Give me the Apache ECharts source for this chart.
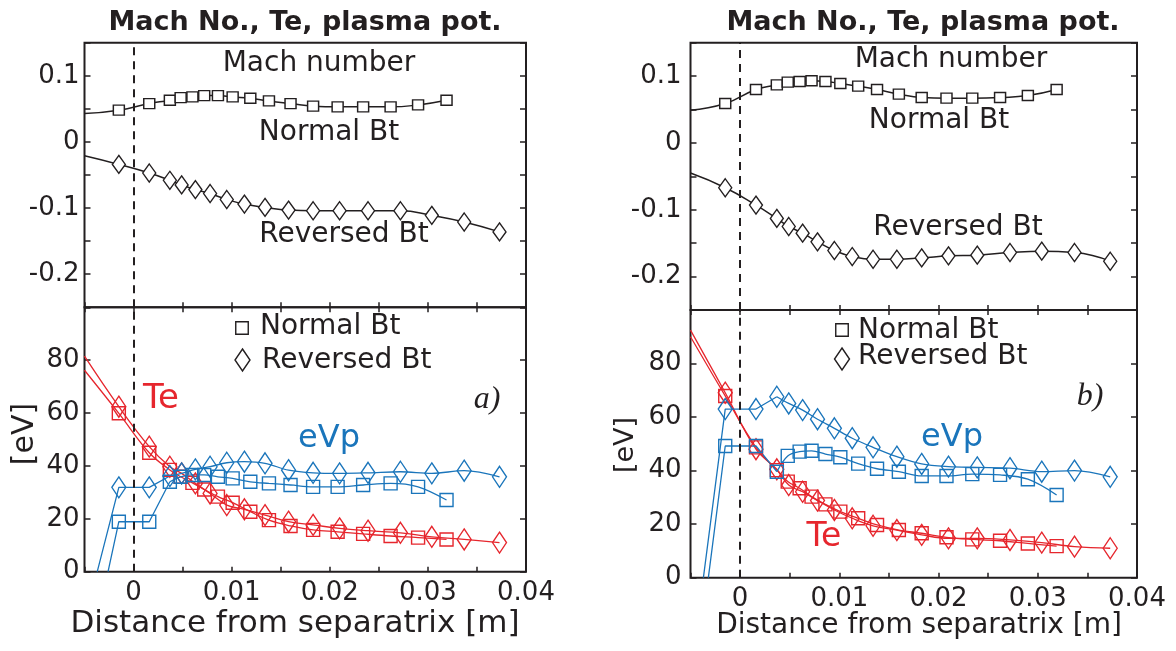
<!DOCTYPE html>
<html>
<head>
<meta charset="utf-8">
<script src="https://cdn.jsdelivr.net/npm/echarts@6/dist/echarts.min.js"></script>
<style>
  html, body { margin: 0; padding: 0; background: #fff; }
  #chart { width: 1176px; height: 651px; }
</style>
</head>
<body>
<div id="chart"></div>
<script>
// probe positions, distance from separatrix [m]
const xNormal = [-0.0015, 0.0016, 0.0037, 0.0048, 0.0060, 0.0072, 0.0086, 0.0101, 0.0119, 0.0138, 0.0160, 0.0183, 0.0208, 0.0234, 0.0262, 0.0290, 0.0319];
const xReversed = [-0.0015, 0.0016, 0.0037, 0.0049, 0.0063, 0.0078, 0.0095, 0.0113, 0.0134, 0.0158, 0.0183, 0.0210, 0.0239, 0.0272, 0.0304, 0.0337, 0.0373];

// a) Mach number
const machNormalA = [0.048, 0.058, 0.063, 0.067, 0.068, 0.070, 0.070, 0.068, 0.066, 0.062, 0.058, 0.054, 0.053, 0.053, 0.053, 0.056, 0.063];
const machReversedA = [-0.034, -0.047, -0.058, -0.065, -0.072, -0.078, -0.087, -0.094, -0.099, -0.103, -0.104, -0.104, -0.104, -0.104, -0.111, -0.121, -0.136];
const machEdgeA = [0.043, -0.021];        // fit curves at x = -0.005 (normal, reversed)
// a) Te, eVp [eV]
const teNormalA = [59.9, 45.0, 38.5, 35.9, 33.6, 31.1, 28.4, 26.1, 22.7, 19.5, 17.3, 15.8, 15.1, 14.3, 13.5, 12.9, 12.2];
const teReversedA = [62.4, 47.3, 39.7, 37.2, 33.4, 29.6, 25.2, 23.6, 21.4, 18.9, 17.7, 16.4, 15.5, 14.7, 13.2, 12.2, 11.0];
const evpNormalA = [18.9, 18.9, 34.0, 35.9, 36.6, 36.6, 35.9, 35.3, 34.0, 33.4, 32.8, 32.1, 32.1, 32.8, 33.4, 32.1, 27.1];
const evpReversedA = [31.9, 31.9, 36.2, 37.2, 38.7, 39.7, 41.2, 41.6, 41.0, 38.4, 37.4, 37.2, 37.4, 37.8, 37.2, 38.2, 35.9];
const teEdgeA = [76.2, 81.5];             // Te curves at x = -0.005 (normal, reversed)
const evpFootA = [-0.0026, -0.0037];      // where eVp curves leave 0 eV (normal, reversed)

// b) Mach number
const machNormalB = [0.059, 0.080, 0.087, 0.091, 0.092, 0.093, 0.092, 0.089, 0.085, 0.080, 0.073, 0.068, 0.067, 0.067, 0.068, 0.071, 0.080];
const machReversedB = [-0.067, -0.093, -0.113, -0.125, -0.135, -0.148, -0.161, -0.170, -0.174, -0.174, -0.172, -0.169, -0.168, -0.164, -0.162, -0.164, -0.177];
const machEdgeB = [0.049, -0.045];
// b) Te, eVp [eV]
const teNormalB = [67.9, 48.7, 40.2, 35.9, 33.4, 30.3, 27.4, 24.7, 22.2, 19.7, 17.8, 16.6, 15.1, 14.3, 13.8, 12.8, 11.8];
const teReversedB = [69.1, 48.0, 40.5, 34.6, 32.1, 28.8, 25.3, 22.2, 19.4, 17.8, 16.0, 14.7, 14.7, 14.1, 13.1, 11.6, 11.0];
const evpNormalB = [49.2, 49.2, 39.6, 45.5, 47.1, 47.4, 46.2, 45.0, 42.6, 40.7, 39.6, 38.0, 38.0, 38.7, 38.4, 36.8, 30.9];
const evpReversedB = [63.0, 63.0, 67.6, 65.1, 62.6, 59.2, 55.8, 52.1, 48.7, 45.2, 42.5, 41.5, 41.2, 40.9, 39.6, 40.0, 37.7];
const teEdgeB = [90.0, 92.5];
const evpFootB = [-0.0032, -0.0037];

// axis scales
const xScale = { min: -0.005, max: 0.04, interval: 0.005 };
const machScale = { min: -0.25, max: 0.15, interval: 0.05 };
const evScale = { min: 0, max: 100, interval: 20 };

const INK = '#231f20';
const RED = '#e6262d';
const BLUE = '#1a75bb';
const FONT = '"DejaVu Sans"';

const pairs = (xs, ys) => xs.map((x, i) => [x, ys[i]]);

const xFmt = v => {
  const k = Math.round(v * 1000);
  if (k % 10 !== 0) return '';
  return k === 0 ? '0' : String(k / 1000);
};
const machFmt = v => {
  const k = Math.round(v * 100);
  if (k % 10 !== 0) return '';
  return k === 0 ? '0' : String(k / 100);
};
const evFmt = v => (v >= 100 ? '' : String(v));

const grids = [], xAxes = [], yAxes = [], series = [];

function tick(show, len) {
  return { show, inside: true, length: len, lineStyle: { color: INK, width: 1.5 } };
}

function addGrid(rect, yScale, o) {
  const g = grids.length;
  grids.push(Object.assign({ show: true, borderColor: INK, borderWidth: 2, backgroundColor: 'transparent' }, rect));
  const base = { gridIndex: g, type: 'value', axisLine: { show: false, onZero: false }, splitLine: { show: false } };
  xAxes.push(Object.assign({}, base, xScale, {
    position: 'bottom', axisTick: tick(true, 5),
    axisLabel: o.xLabels
      ? { show: true, fontSize: 26, fontFamily: FONT, color: INK, margin: 9, formatter: xFmt }
      : { show: false }
  }));
  xAxes.push(Object.assign({}, base, xScale, { position: 'top', axisTick: tick(o.topTicks, 5), axisLabel: { show: false } }));
  yAxes.push(Object.assign({}, base, yScale, {
    position: 'left', axisTick: tick(true, 6),
    axisLabel: { fontSize: 26, fontFamily: FONT, color: INK, margin: o.yMargin, formatter: o.yFmt }
  }));
  yAxes.push(Object.assign({}, base, yScale, { position: 'right', axisTick: tick(true, 6), axisLabel: { show: false } }));
  return g;
}

const separatrix = {
  silent: true, symbol: ['none', 'none'], label: { show: false },
  lineStyle: { color: INK, width: 2, type: [8, 6] },
  data: [{ xAxis: 0 }]
};

function curve(g, data, color, width, smooth, withMark) {
  const s = {
    type: 'line', xAxisIndex: 2 * g, yAxisIndex: 2 * g, data, symbol: 'none', showSymbol: false,
    smooth, lineStyle: { color, width }, clip: true, z: 2, silent: true
  };
  if (withMark) s.markLine = separatrix;
  return s;
}

function markers(g, data, symbol, size, color, fill) {
  return {
    type: 'scatter', xAxisIndex: 2 * g, yAxisIndex: 2 * g, data, symbol, symbolSize: size,
    itemStyle: { color: fill, borderColor: color, borderWidth: 1.4, opacity: 1 }, z: 3, silent: true
  };
}

// eVp traces: straight rise from the axis and flat step near the separatrix,
// then a smoothed trace through the rest of the probe points
function evpCurves(g, foot, pts) {
  return [
    curve(g, [[foot, 0]].concat(pts.slice(0, 3)), BLUE, 1.3, false, false),
    curve(g, pts.slice(2), BLUE, 1.3, 0.35, false)
  ];
}

function machPanel(rect, yMargin, normal, reversed, edge) {
  const g = addGrid(rect, machScale, { xLabels: false, topTicks: false, yMargin, yFmt: machFmt });
  series.push(
    curve(g, [[xScale.min, edge[0]]].concat(pairs(xNormal, normal)), INK, 1.5, 0.5, true),
    curve(g, [[xScale.min, edge[1]]].concat(pairs(xReversed, reversed)), INK, 1.5, 0.5, false),
    markers(g, pairs(xNormal, normal), 'rect', [11, 10], INK, '#fff'),
    markers(g, pairs(xReversed, reversed), 'diamond', [13, 18], INK, '#fff')
  );
}

function evPanel(rect, yMargin, teN, teR, evN, evR, teEdge, evFoot) {
  const g = addGrid(rect, evScale, { xLabels: true, topTicks: true, yMargin, yFmt: evFmt });
  const clear = 'rgba(0,0,0,0)';
  series.push(
    curve(g, [[xScale.min, teEdge[0]]].concat(pairs(xNormal, teN)), RED, 1.3, 0.4, true),
    curve(g, [[xScale.min, teEdge[1]]].concat(pairs(xReversed, teR)), RED, 1.3, 0.4, false),
    ...evpCurves(g, evFoot[0], pairs(xNormal, evN)),
    ...evpCurves(g, evFoot[1], pairs(xReversed, evR)),
    markers(g, pairs(xNormal, teN), 'rect', [13, 13], RED, clear),
    markers(g, pairs(xReversed, teR), 'diamond', [14, 21], RED, clear),
    markers(g, pairs(xNormal, evN), 'rect', [13, 13], BLUE, clear),
    markers(g, pairs(xReversed, evR), 'diamond', [14, 21], BLUE, clear)
  );
}

machPanel({ left: 84.5, top: 42.7, width: 441.5, height: 264.6 }, 5, machNormalA, machReversedA, machEdgeA);
evPanel({ left: 84.5, top: 307.3, width: 441.5, height: 264.4 }, 5, teNormalA, teReversedA, evpNormalA, evpReversedA, teEdgeA, evpFootA);
machPanel({ left: 690.5, top: 42.7, width: 446.5, height: 267.3 }, 9, machNormalB, machReversedB, machEdgeB);
evPanel({ left: 690.5, top: 310, width: 446.5, height: 267.7 }, 9, teNormalB, teReversedB, evpNormalB, evpReversedB, teEdgeB, evpFootB);

// ---- annotations
function text(str, x, y, font, color, opts) {
  return Object.assign({
    type: 'text', x, y, silent: true,
    style: {
      text: str, font, fill: color || INK,
      align: 'center', verticalAlign: 'middle', textAlign: 'center', textVerticalAlign: 'middle'
    }
  }, opts || {});
}
function leftText(str, x, y, font) {
  const t = text(str, x, y, font);
  t.style.align = t.style.textAlign = 'left';
  return t;
}
function legendSquare(cx, cy, s) {
  return { type: 'rect', silent: true, shape: { x: cx - s / 2, y: cy - s / 2, width: s, height: s },
    style: { fill: 'none', stroke: INK, lineWidth: 1.4 } };
}
function legendDiamond(cx, cy, w, h) {
  return { type: 'polygon', silent: true,
    shape: { points: [[cx, cy - h / 2], [cx + w / 2, cy], [cx, cy + h / 2], [cx - w / 2, cy]] },
    style: { fill: 'none', stroke: INK, lineWidth: 1.4 } };
}

const f = (px, w) => (w || '') + ' ' + px + 'px ' + FONT;
const title = 'Mach No., Te, plasma pot.';
const axisName = 'Distance from separatrix [m]';

const graphics = [
  text(title, 305, 23, f(27, 'bold')),
  text(title, 923, 23, f(27, 'bold')),
  // a)
  text('Mach number', 319, 64, f(28)),
  text('Normal Bt', 329, 133, f(28)),
  text('Reversed Bt', 344, 235, f(28)),
  legendSquare(242, 328, 12.5),
  leftText('Normal Bt', 260, 327, f(28)),
  legendDiamond(242.5, 360, 15, 22),
  leftText('Reversed Bt', 262, 361, f(28)),
  text('Te', 161, 399, f(34), RED),
  text('eVp', 329, 439, f(32), BLUE),
  text('a)', 487, 400, 'italic 32px "Liberation Serif"'),
  text(axisName, 295, 624, f(31)),
  text('[eV]', 25, 434, f(30), INK, { rotation: Math.PI / 2 }),
  // b)
  text('Mach number', 951, 60, f(28)),
  text('Normal Bt', 939, 121, f(28)),
  text('Reversed Bt', 958, 228, f(28)),
  legendSquare(842, 330, 12.5),
  leftText('Normal Bt', 858, 331, f(28)),
  legendDiamond(842, 359, 15, 22),
  leftText('Reversed Bt', 858, 357, f(28)),
  text('Te', 824, 537, f(33), RED),
  text('eVp', 952, 438, f(32), BLUE),
  text('b)', 1090, 397, 'italic 32px "Liberation Serif"'),
  text(axisName, 919, 626, f(28)),
  text('[eV]', 626, 445, f(27), INK, { rotation: Math.PI / 2 })
];

const chart = echarts.init(document.getElementById('chart'), null, { renderer: 'canvas' });
chart.setOption({
  animation: false,
  backgroundColor: '#fff',
  grid: grids,
  xAxis: xAxes,
  yAxis: yAxes,
  series,
  graphic: { elements: graphics }
});
window.addEventListener('resize', () => chart.resize());
</script>
</body>
</html>
